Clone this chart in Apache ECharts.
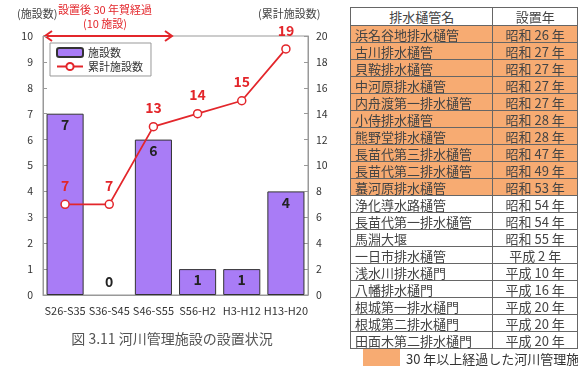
<!DOCTYPE html>
<html><head><meta charset="utf-8">
<script src="https://cdn.jsdelivr.net/npm/echarts@6/dist/echarts.min.js"></script>
<style>
html,body{margin:0;padding:0;width:578px;height:366px;overflow:hidden;background:#fff;font-family:"Noto Sans CJK JP",sans-serif;}
#chart{position:absolute;left:0;top:0;width:578px;height:366px;}
#tbl{position:absolute;left:350px;top:7px;border-collapse:collapse;font-size:13px;color:#444;table-layout:fixed;}
#tbl td,#tbl th{border:1px solid #666;height:16px;padding:0 4px;line-height:15px;white-space:nowrap;font-weight:normal;overflow:hidden;}
#tbl th{background:#fff;text-align:center;height:17px;}
#tbl td.y{text-align:center;}
#tbl tr.old td{background:#f7ab72;}
#leg{position:absolute;left:363px;top:349px;width:37px;height:17px;background:#f7ab72;}
#legt{position:absolute;left:406px;top:349px;font-size:13px;color:#333;white-space:nowrap;}
</style></head>
<body>
<div id="chart"></div>
<table id="tbl"></table>
<div id="leg"></div><div id="legt">30 年以上経過した河川管理施設</div>
<script>
const categories = ["S26-S35","S36-S45","S46-S55","S56-H2","H3-H12","H13-H20"];
const counts = [7,0,6,1,1,4];
const cumulative = [7,7,13,14,15,19];
const leftTicks = [0,1,2,3,4,5,6,7,8,9,10];
const rightTicks = [0,2,4,6,8,10,12,14,16,18,20];
const facilityNames = ["浜名谷地排水樋管","古川排水樋管","貝鞍排水樋管","中河原排水樋管","内舟渡第一排水樋管","小侍排水樋管","熊野堂排水樋管","長苗代第三排水樋管","長苗代第二排水樋管","蟇河原排水樋管","浄化導水路樋管","長苗代第一排水樋管","馬淵大堰","一日市排水樋管","浅水川排水樋門","八幡排水樋門","根城第一排水樋門","根城第二排水樋門","田面木第二排水樋門"];
const facilityYears = ["昭和 26 年","昭和 27 年","昭和 27 年","昭和 27 年","昭和 27 年","昭和 28 年","昭和 28 年","昭和 47 年","昭和 49 年","昭和 53 年","昭和 54 年","昭和 54 年","昭和 55 年","平成 2 年","平成 10 年","平成 16 年","平成 20 年","平成 20 年","平成 20 年"];
const over30 = [1,1,1,1,1,1,1,1,1,1,0,0,0,0,0,0,0,0,0];
const tableHeader = ["排水樋管名","設置年"];

let html = '<tr><th style="width:138px">'+tableHeader[0]+'</th><th style="width:80px">'+tableHeader[1]+'</th></tr>';
facilityNames.forEach((n,i)=>{
  html += '<tr class="'+(over30[i]?'old':'')+'"><td>'+n+'</td><td class="y">'+facilityYears[i]+'</td></tr>';
});
document.getElementById('tbl').innerHTML = html;

const chart = echarts.init(document.getElementById('chart'));
const FONT = '"Noto Sans CJK JP", sans-serif';
const red = '#e3262b';
chart.setOption({
  animation:false,
  textStyle:{fontFamily:FONT},
  grid:{left:43,right:270,top:36,bottom:71,show:true,borderColor:'#999',borderWidth:1},
  legend:{
    left:50, top:43, orient:'vertical', itemGap:3, itemWidth:26, itemHeight:9,
    borderColor:'#999', borderWidth:1, padding:[4,8,4,6],
    textStyle:{fontSize:11,color:'#333',fontFamily:FONT},
    data:[{name:'施設数'},{name:'累計施設数'}]
  },
  xAxis:{
    type:'category', data:categories,
    axisLine:{lineStyle:{color:'#999'}}, axisTick:{show:false},
    axisLabel:{color:'#333',fontSize:11,margin:10,interval:0,fontFamily:FONT}
  },
  yAxis:[
    {type:'value',min:0,max:10,interval:1,
     axisLine:{show:true,lineStyle:{color:'#999'}},
     axisTick:{show:true,inside:true,length:4,lineStyle:{color:'#999'}},
     splitLine:{show:false},
     axisLabel:{color:'#333',fontSize:10.5,margin:10}},
    {type:'value',min:0,max:20,interval:2,position:'right',
     axisLine:{show:true,lineStyle:{color:'#999'}},
     axisTick:{show:true,inside:true,length:4,lineStyle:{color:'#999'}},
     splitLine:{show:false},
     axisLabel:{color:'#333',fontSize:10.5,margin:8}}
  ],
  series:[
    {name:'施設数',type:'bar',barWidth:'84%',
     data:counts.map(v=> v===0 ? {value:v,itemStyle:{borderWidth:0},label:{position:'top',distance:6}} : v),
     itemStyle:{color:'#a97cf6',borderColor:'#333',borderWidth:1},
     label:{show:true,position:'insideTop',distance:4,color:'#222',fontSize:14,fontWeight:'bold'}},
    {name:'累計施設数',type:'line',yAxisIndex:1,data:cumulative,
     symbol:'circle',symbolSize:8,
     lineStyle:{color:red,width:1.8},
     itemStyle:{color:'#fff',borderColor:red,borderWidth:1.5},
     label:{show:true,position:'top',distance:7,color:red,fontSize:14,fontWeight:'bold'},
     z:5}
  ],
  graphic:[
    {type:'text',left:17,top:8,style:{text:'(施設数)',fill:'#444',font:'11px '+FONT}},
    {type:'text',left:258,top:8,style:{text:'(累計施設数)',fill:'#444',font:'11px '+FONT}},
    {type:'text',x:105,y:4,style:{text:'設置後 30 年賀経過',fill:red,font:'11px '+FONT,align:'center'}},
    {type:'text',x:105,y:18,style:{text:'(10 施設)',fill:red,font:'11px '+FONT,align:'center'}},
    {type:'line',shape:{x1:46,y1:36,x2:171,y2:36},style:{stroke:red,lineWidth:2}},
    {type:'polyline',shape:{points:[[52,31],[45,36],[52,41]]},style:{stroke:red,lineWidth:2,fill:null}},
    {type:'polyline',shape:{points:[[165,31],[172,36],[165,41]]},style:{stroke:red,lineWidth:2,fill:null}},
    {type:'text',x:172,y:332,style:{text:'図 3.11 河川管理施設の設置状況',fill:'#555',font:'14px '+FONT,align:'center'}}
  ]
});
</script>
</body></html>
